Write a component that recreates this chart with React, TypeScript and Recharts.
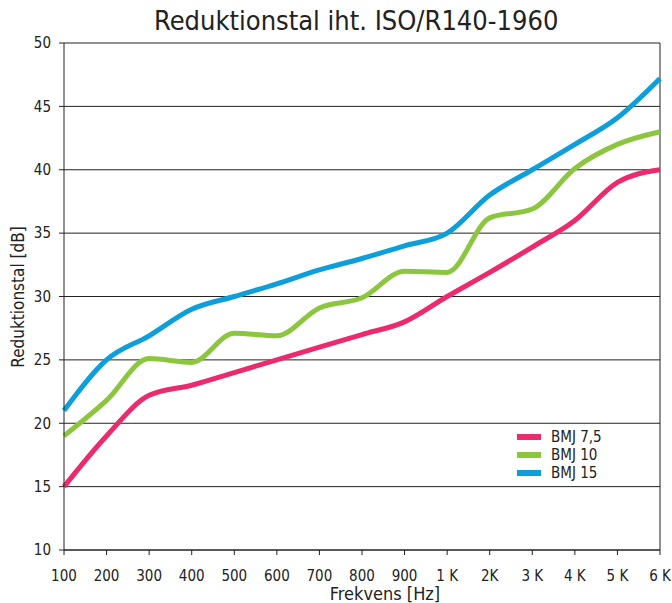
import React from 'react';
import { LineChart, Line, XAxis, YAxis, CartesianGrid, ReferenceLine } from 'recharts';

const categories = ['100', '200', '300', '400', '500', '600', '700', '800', '900', '1 K', '2K', '3 K', '4 K', '5 K', '6 K'];
const bmj75 = [15, 19, 22.2, 23, 24, 25, 26, 27, 28, 30, 31.9, 33.9, 36, 39, 40];
const bmj10 = [19, 21.8, 25.1, 24.8, 27.1, 26.9, 29.1, 29.9, 32, 31.9, 36.2, 36.9, 40.1, 42, 43];
const bmj15 = [21, 25, 26.9, 29, 30, 31, 32.1, 33, 34, 35, 38, 40, 42, 44.1, 47.2];
const yTicks = [10, 15, 20, 25, 30, 35, 40, 45, 50];

const series = [
  { key: 'bmj75', name: 'BMJ 7,5', color: '#EC2A6E' },
  { key: 'bmj10', name: 'BMJ 10', color: '#8CC63F' },
  { key: 'bmj15', name: 'BMJ 15', color: '#0E9FDA' },
];

const data = categories.map((c, i) => ({
  x: i,
  label: c,
  bmj75: bmj75[i],
  bmj10: bmj10[i],
  bmj15: bmj15[i],
}));

const font = "'Liberation Sans Narrow', 'DejaVu Sans Condensed', Roboto, sans-serif";

const App: React.FC = () => {
  return (
    <div style={{ position: 'absolute', left: 0, top: 0, width: 672, height: 603, background: '#fff', fontFamily: font, overflow: 'hidden' }}>
      <div style={{ position: 'absolute', left: 154, width: 400, top: 5, textAlign: 'center', fontSize: 27, lineHeight: '32px', color: '#222', whiteSpace: 'nowrap' }}>
        Reduktionstal iht. ISO/R140-1960
      </div>
      <LineChart width={672} height={603} data={data} margin={{ top: 43, right: 12, bottom: 23, left: 0 }}>
        <CartesianGrid vertical={false} stroke="#222" strokeOpacity={1} />
        <XAxis
          dataKey="x"
          type="number"
          domain={[0, 14]}
          ticks={categories.map((_, i) => i)}
          tickFormatter={(v: number) => categories[v]}
          tick={{ fontSize: 15, fill: '#222', fontFamily: font }}
          tickSize={5}
          tickMargin={15}
          stroke="#222"
          interval={0}
          height={30}
        />
        <YAxis
          domain={[10, 50]}
          ticks={yTicks}
          width={64}
          tick={{ fontSize: 15, fill: '#222', fontFamily: font }}
          tickSize={5}
          tickMargin={8}
          stroke="#222"
          interval={0}
        />
        <ReferenceLine x={14} stroke="#222" />
        {series.map((s) => (
          <Line
            key={s.key}
            type="monotone"
            dataKey={s.key}
            name={s.name}
            stroke={s.color}
            strokeWidth={5}
            dot={false}
            isAnimationActive={false}
          />
        ))}
      </LineChart>
      <div style={{ position: 'absolute', left: 517, top: 428, fontSize: 15, color: '#222' }}>
        {series.map((s) => (
          <div key={s.key} style={{ display: 'flex', alignItems: 'center', height: 18 }}>
            <div style={{ width: 24, height: 6, background: s.color, marginRight: 10 }} />
            <span>{s.name}</span>
          </div>
        ))}
      </div>
      <div style={{ position: 'absolute', left: 285, width: 200, top: 584, textAlign: 'center', fontSize: 18, lineHeight: '20px', color: '#222' }}>
        Frekvens [Hz]
      </div>
      <div
        style={{
          position: 'absolute',
          left: 18,
          top: 297,
          transform: 'translate(-50%, -50%) rotate(-90deg)',
          whiteSpace: 'nowrap',
          fontSize: 17,
          color: '#222',
        }}
      >
        Reduktionstal [dB]
      </div>
    </div>
  );
};

export default App;
